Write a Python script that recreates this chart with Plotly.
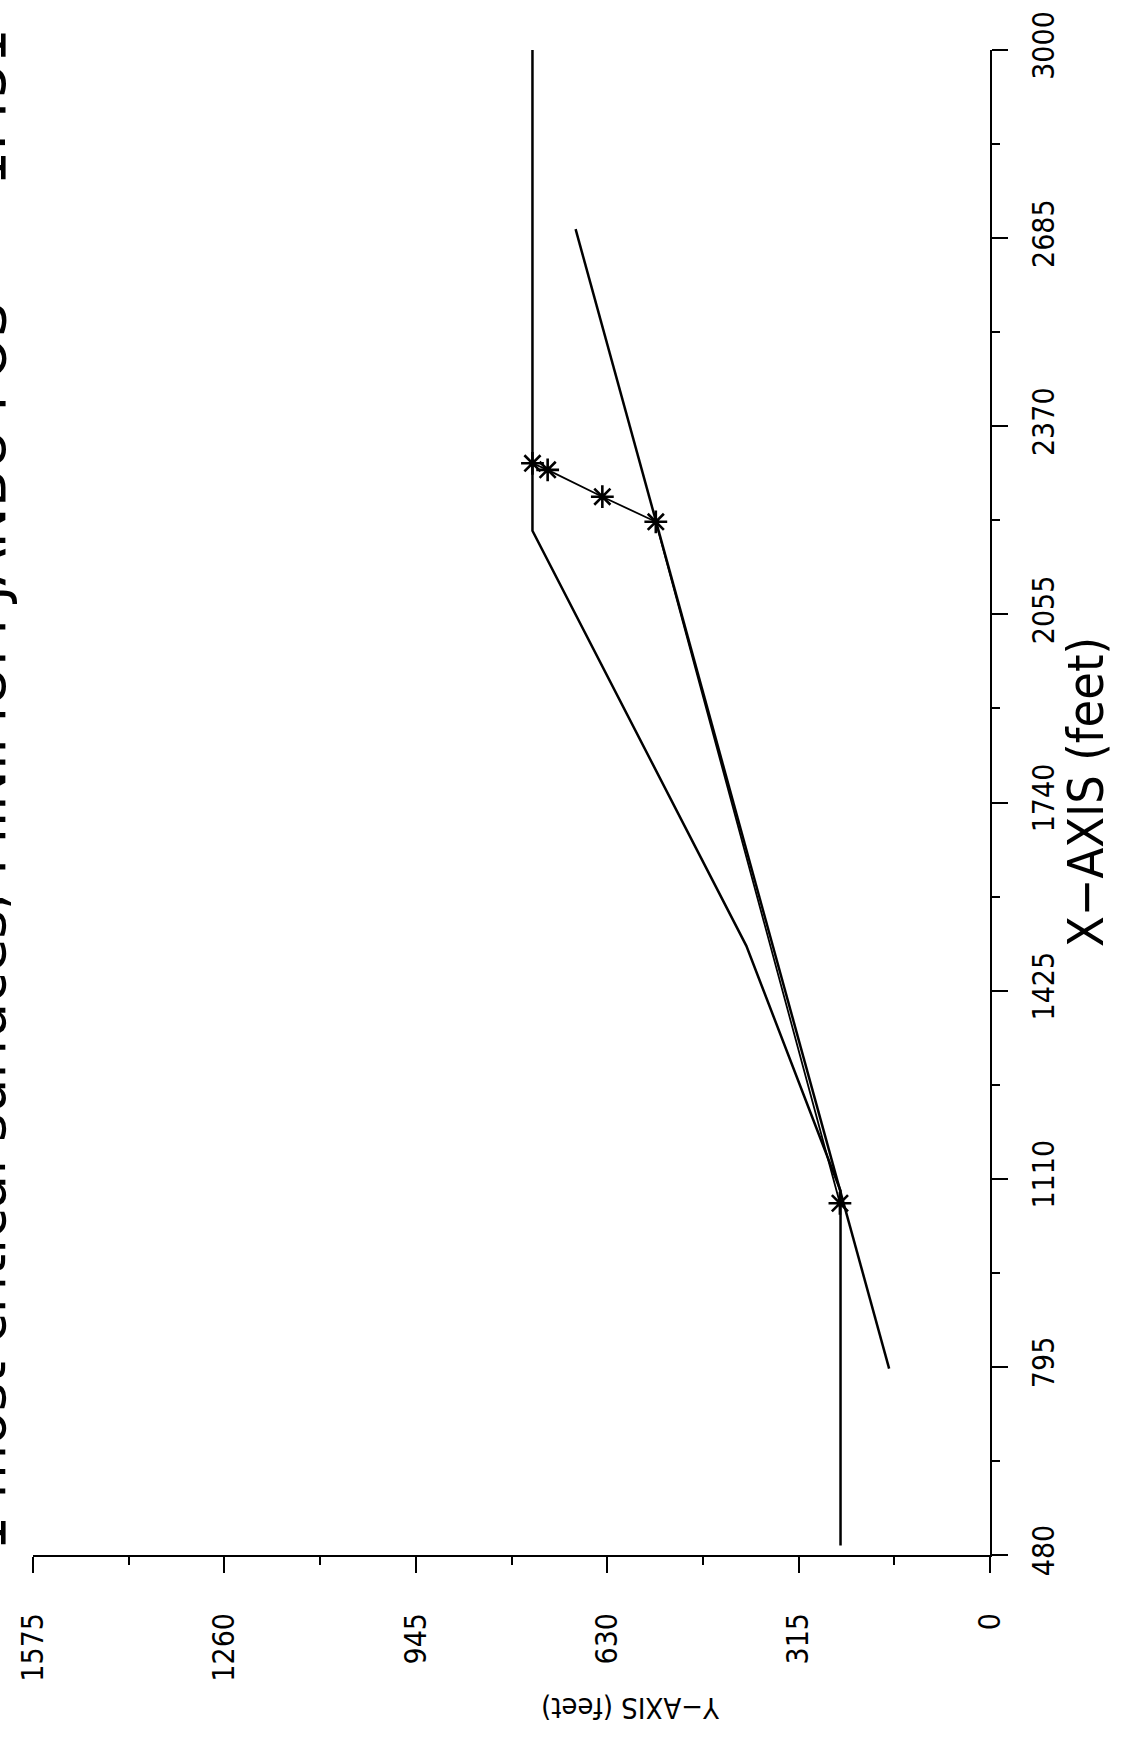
import plotly.graph_objects as go

# ---- data (X = horizontal distance, Y = elevation; feet) ----
profile_x = [496, 1090, 1500, 2195, 3000]
profile_y = [246, 246, 401, 753, 753]

line_x = [792, 2700]
line_y = [166, 682]

surface_x = [1069, 2210, 2252, 2297, 2308]
surface_y = [247, 550, 638, 728, 753]

x_ticks = [480, 795, 1110, 1425, 1740, 2055, 2370, 2685, 3000]
y_ticks = [0, 315, 630, 945, 1260, 1575]

title_text = "1 most critical surfaces, MINIMUM JANBU FOS =   1.451"

W, H = 1131, 1744
L, R, T, B = 33, 990, 50, 1555
FONT = "DejaVu Sans Condensed, sans-serif"
TFONT = "DejaVu Sans, Verdana, sans-serif"


def px(x):
    return (x - L) / (R - L)


def py(y):
    return (B - y) / (B - T)


fig = go.Figure()
# plot is rotated: data X runs on the vertical axis, elevation Y on the horizontal (reversed) axis
fig.add_trace(go.Scatter(x=profile_y, y=profile_x, mode="lines",
                         line=dict(color="black", width=2.5), hoverinfo="skip"))
fig.add_trace(go.Scatter(x=line_y, y=line_x, mode="lines",
                         line=dict(color="black", width=2.5), hoverinfo="skip"))
fig.add_trace(go.Scatter(x=surface_y, y=surface_x, mode="lines+markers",
                         line=dict(color="black", width=1.8),
                         marker=dict(symbol="asterisk-open", size=19,
                                     line=dict(color="black", width=2.6)),
                         hoverinfo="skip"))

fig.update_layout(
    width=W, height=H,
    margin=dict(l=L, r=W - R, t=T, b=H - B, pad=0),
    paper_bgcolor="white", plot_bgcolor="white",
    showlegend=False,
    font=dict(family=FONT, color="black"),
)

fig.update_xaxes(
    range=[1575, 0], tickvals=y_ticks, ticktext=[str(v) for v in y_ticks],
    showgrid=False, zeroline=False,
    showline=True, linecolor="black", linewidth=2,
    ticks="outside", ticklen=16, tickwidth=2, tickcolor="black",
    tickangle=-90, tickfont=dict(size=30, family=FONT),
    ticklabelstandoff=28,
    minor=dict(tickvals=[157.5, 472.5, 787.5, 1102.5, 1417.5], ticks="outside",
               ticklen=8, tickwidth=1.5, tickcolor="black"),
)
fig.update_yaxes(
    range=[480, 3000], tickvals=x_ticks, ticktext=[str(v) for v in x_ticks],
    side="right",
    showgrid=False, zeroline=False,
    showline=True, linecolor="black", linewidth=2,
    ticks="outside", ticklen=16, tickwidth=2, tickcolor="black",
    tickangle=-90, tickfont=dict(size=30, family=FONT),
    ticklabelstandoff=10,
    minor=dict(tickvals=[637.5, 952.5, 1267.5, 1582.5, 1897.5, 2212.5, 2527.5, 2842.5],
               ticks="outside", ticklen=8, tickwidth=1.5, tickcolor="black"),
)

annotations = [
    dict(text="X\u2212AXIS (feet)", x=px(1086), y=py(792), xref="paper", yref="paper",
         textangle=-90, showarrow=False, xanchor="center", yanchor="middle",
         font=dict(size=50, family=FONT)),
    dict(text="Y\u2212AXIS (feet)", x=px(631), y=py(1708), xref="paper", yref="paper",
         textangle=180, showarrow=False, xanchor="center", yanchor="middle",
         font=dict(size=29, family=FONT)),
    dict(text=title_text, x=px(-14), y=py(790), xref="paper", yref="paper",
         textangle=-90, showarrow=False, xanchor="center", yanchor="middle",
         font=dict(size=55, family=TFONT)),
]
fig.update_layout(annotations=annotations)

fig.write_html("out.html")
